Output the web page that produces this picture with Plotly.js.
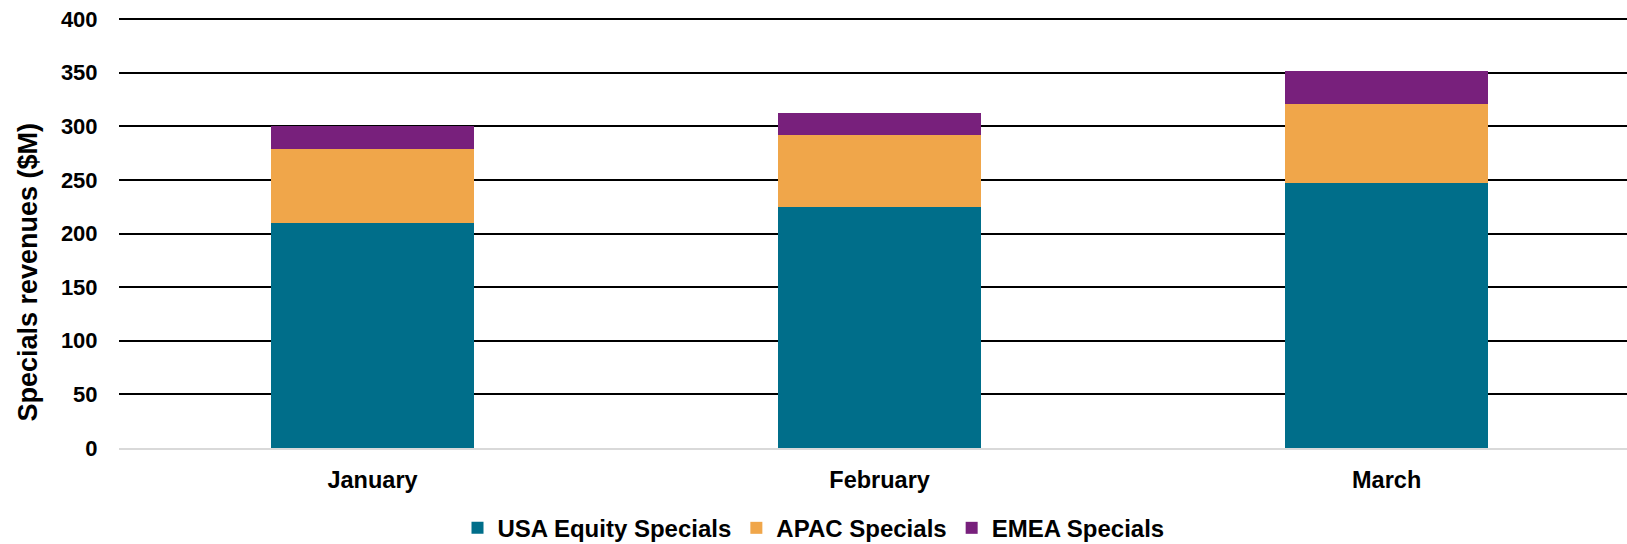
<!DOCTYPE html>
<html>
<head>
<meta charset="utf-8">
<script src="https://cdn.plot.ly/plotly-3.0.1.min.js"></script>
<style>html,body{margin:0;padding:0;background:#fff;}#chart{width:1627px;height:544px;}</style>
</head>
<body>
<div id="chart"></div>
<script>
const months = ["January", "February", "March"];
const usaEquity = [209.5, 225, 247];
const apac = [69, 67, 74];
const emea = [22, 20, 31];
const seriesNames = ["USA Equity Specials", "APAC Specials", "EMEA Specials"];
const seriesColors = ["#006E8A", "#F0A64A", "#78207C"];
const yTicks = [0, 50, 100, 150, 200, 250, 300, 350, 400];
const yTitle = "Specials revenues ($M)";

const values = [usaEquity, apac, emea];
const traces = values.map((v, i) => ({
  type: "bar",
  x: months,
  y: v,
  name: seriesNames[i],
  marker: {color: seriesColors[i], line: {width: 0}},
  hoverinfo: "x+y+name"
}));

const fam = "Liberation Sans, Arial, sans-serif";

const layout = {
  width: 1627, height: 544,
  barmode: "stack",
  bargap: 0.6,
  margin: {l: 119, r: 0, t: 18, b: 96, autoexpand: false},
  paper_bgcolor: "#fff",
  plot_bgcolor: "#fff",
  font: {family: fam, color: "#000"},
  xaxis: {
    type: "category",
    range: [-0.5, 2.474],
    tickfont: {family: fam, size: 23.5, color: "#000", weight: "bold"},
    ticks: "outside", ticklen: 10, tickcolor: "rgba(0,0,0,0)",
    showline: true, linecolor: "#d9d9d9", linewidth: 2,
    showgrid: false
  },
  yaxis: {
    range: [0, 401],
    tickvals: yTicks,
    ticktext: yTicks.map(String),
    tickfont: {family: fam, size: 22, color: "#000", weight: "bold"},
    ticks: "outside", ticklen: 16, tickcolor: "rgba(0,0,0,0)",
    showgrid: true, gridcolor: "#000", gridwidth: 2,
    zeroline: false, showline: false
  },
  annotations: [{
    text: yTitle,
    xref: "paper", yref: "paper",
    x: 0, y: 0.408,
    xshift: -91,
    xanchor: "center", yanchor: "middle",
    textangle: -90,
    showarrow: false,
    font: {family: fam, size: 27, color: "#000", weight: "bold"}
  }],
  legend: {
    orientation: "h",
    x: 0.5, xanchor: "center", xref: "container",
    y: 0.029, yanchor: "middle", yref: "container",
    font: {family: fam, size: 24, color: "#000", weight: "bold"},
    traceorder: "normal",
    itemsizing: "constant",
    itemwidth: 30
  },
  showlegend: true
};

Plotly.newPlot("chart", traces, layout, {displayModeBar: false, staticPlot: true});
</script>
</body>
</html>
